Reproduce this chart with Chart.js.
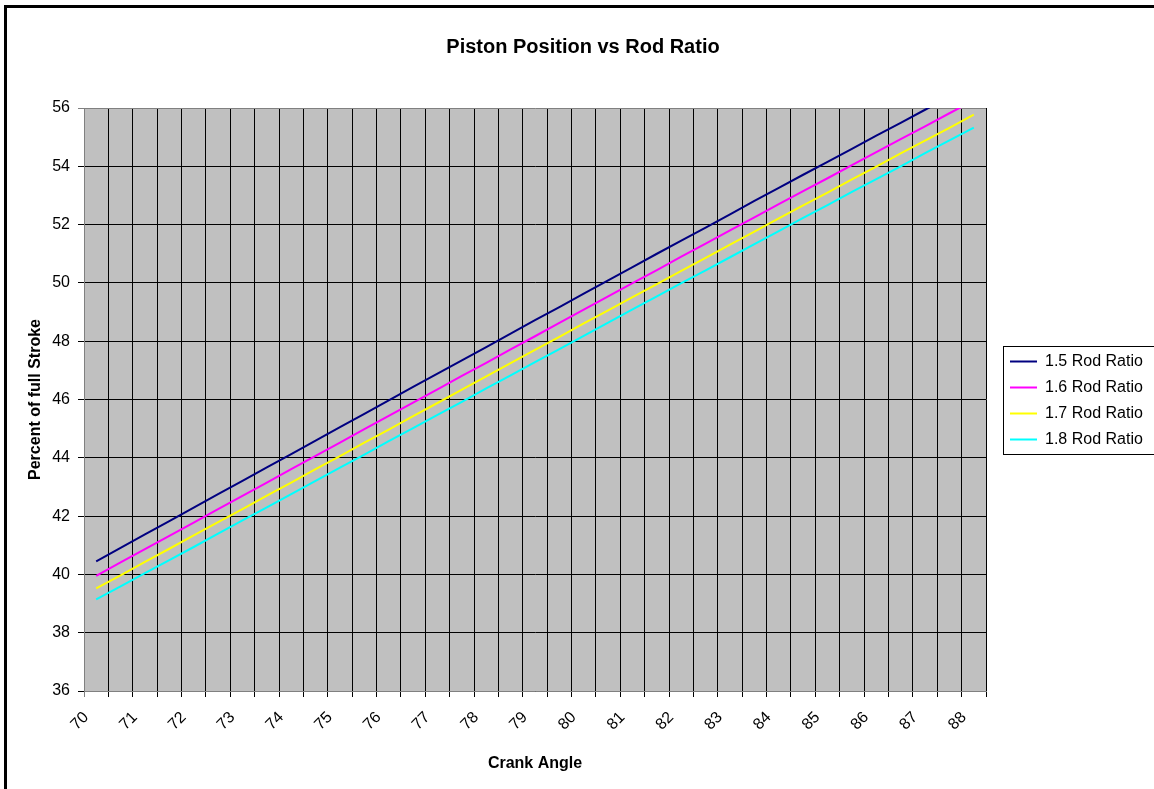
<!DOCTYPE html>
<html>
<head>
<meta charset="utf-8">
<title>Piston Position vs Rod Ratio</title>
<script src="https://cdn.jsdelivr.net/npm/chart.js@4.4.1/dist/chart.umd.min.js"></script>
<style>
  html, body { margin: 0; padding: 0; background: #ffffff; overflow: hidden; }
  canvas { display: block; }
</style>
</head>
<body>
<canvas id="chart" width="1154" height="789"></canvas>
<script>
// Crank angle in degrees (half-degree steps)
const crankAngles = [70, 70.5, 71, 71.5, 72, 72.5, 73, 73.5, 74, 74.5, 75, 75.5, 76, 76.5,
  77, 77.5, 78, 78.5, 79, 79.5, 80, 80.5, 81, 81.5, 82, 82.5, 83, 83.5, 84, 84.5,
  85, 85.5, 86, 86.5, 87, 87.5, 88];

// Piston travel as a percent of full stroke, one list per rod ratio
const rod15 = [40.45, 40.91, 41.37, 41.83, 42.29, 42.75, 43.21, 43.67, 44.13, 44.59, 45.05, 45.51,
  45.97, 46.43, 46.89, 47.34, 47.80, 48.26, 48.72, 49.17, 49.63, 50.09, 50.54, 51.00, 51.45,
  51.90, 52.35, 52.81, 53.26, 53.71, 54.15, 54.60, 55.05, 55.49, 55.94, 56.38, 56.82];
const rod16 = [39.95, 40.41, 40.87, 41.32, 41.78, 42.24, 42.69, 43.15, 43.61, 44.07, 44.52, 44.98,
  45.44, 45.89, 46.35, 46.81, 47.26, 47.72, 48.17, 48.63, 49.08, 49.54, 49.99, 50.44, 50.90,
  51.35, 51.80, 52.25, 52.70, 53.15, 53.59, 54.04, 54.49, 54.93, 55.37, 55.82, 56.26];
const rod17 = [39.52, 39.97, 40.43, 40.88, 41.34, 41.79, 42.24, 42.70, 43.15, 43.61, 44.06, 44.52,
  44.97, 45.43, 45.88, 46.34, 46.79, 47.25, 47.70, 48.15, 48.61, 49.06, 49.51, 49.96, 50.41,
  50.86, 51.31, 51.76, 52.21, 52.66, 53.10, 53.55, 53.99, 54.44, 54.88, 55.32, 55.77];
const rod18 = [39.14, 39.59, 40.04, 40.49, 40.94, 41.40, 41.85, 42.30, 42.75, 43.21, 43.66, 44.11,
  44.57, 45.02, 45.47, 45.92, 46.38, 46.83, 47.28, 47.73, 48.18, 48.64, 49.09, 49.54, 49.99,
  50.43, 50.88, 51.33, 51.78, 52.23, 52.67, 53.12, 53.56, 54.00, 54.45, 54.89, 55.33];

const seriesNames = ['1.5 Rod Ratio', '1.6 Rod Ratio', '1.7 Rod Ratio', '1.8 Rod Ratio'];
const seriesColors = ['#000080', '#ff00ff', '#ffff00', '#00ffff'];
const seriesValues = [rod15, rod16, rod17, rod18];

// Percent axis
const yMin = 36;
const yMax = 56;
const yStep = 2;

const FONT = 'Arial, "Liberation Sans", Helvetica, sans-serif';
Chart.defaults.font.family = FONT;
Chart.defaults.color = '#000000';

// Grey plot area, page frame, legend box and final placement of title/legend
const sheetStyle = {
  id: 'sheetStyle',
  afterLayout(chart) {
    if (chart.titleBlock) {
      chart.titleBlock.left += 15;
      chart.titleBlock.right += 15;
    }
    if (chart.legend) {
      chart.legend.left += 14;
      chart.legend.right += 14;
      chart.legend.top += 6;
      chart.legend.bottom += 6;
    }
  },
  beforeDraw(chart) {
    const { ctx, chartArea: a } = chart;
    ctx.save();
    ctx.fillStyle = '#ffffff';
    ctx.fillRect(0, 0, chart.width, chart.height);
    ctx.fillStyle = '#c0c0c0';
    ctx.fillRect(a.left, a.top, a.right - a.left, a.bottom - a.top);
    ctx.fillStyle = '#000000';
    ctx.fillRect(4, 5, chart.width, 3);
    ctx.fillRect(4, 5, 3, chart.height);
    ctx.restore();
  },
  afterDraw(chart) {
    const hb = chart.legend && chart.legend.legendHitBoxes;
    if (!hb || !hb.length) return;
    const first = hb[0];
    const last = hb[hb.length - 1];
    const x = Math.round(first.left - 7) + 0.5;
    const y = Math.round(first.top - 7.5) + 0.5;
    const bottom = Math.round(last.top + last.height + 6.5) + 0.5;
    const { ctx } = chart;
    ctx.save();
    ctx.strokeStyle = '#000000';
    ctx.lineWidth = 1;
    ctx.strokeRect(x, y, chart.width + 20 - x, bottom - y);
    ctx.restore();
  }
};

new Chart(document.getElementById('chart'), {
  type: 'line',
  data: {
    labels: crankAngles,
    datasets: seriesValues.map((vals, i) => ({
      label: seriesNames[i],
      data: vals,
      borderColor: seriesColors[i],
      backgroundColor: seriesColors[i],
      borderWidth: 2,
      pointRadius: 0,
      pointHoverRadius: 0,
      tension: 0,
      fill: false
    }))
  },
  options: {
    responsive: false,
    animation: false,
    devicePixelRatio: 1,
    layout: { padding: { left: 0, top: 0, right: 18, bottom: 0 } },
    plugins: {
      title: {
        display: true,
        text: 'Piston Position vs Rod Ratio',
        font: { size: 20, weight: 'bold', family: FONT, lineHeight: 1.2 },
        color: '#000000',
        padding: { top: 35, bottom: 49 }
      },
      legend: {
        display: true,
        position: 'right',
        maxWidth: 150,
        labels: {
          usePointStyle: true,
          pointStyle: 'line',
          pointStyleWidth: 27,
          boxWidth: 27,
          padding: 10,
          color: '#000000',
          font: { size: 16, family: FONT }
        }
      },
      tooltip: { enabled: false }
    },
    scales: {
      x: {
        type: 'category',
        offset: true,
        afterFit(scale) { scale.height = 98; },
        grid: {
          offset: true,
          lineWidth: 1,
          color: (c) => (c.index === 0 || c.index === crankAngles.length) ? '#808080' : '#000000',
          tickLength: 6,
          drawTicks: true
        },
        border: { display: true, color: '#808080', width: 1 },
        ticks: {
          autoSkip: false,
          minRotation: 45,
          maxRotation: 45,
          padding: 11,
          labelOffset: -10,
          color: '#000000',
          font: { size: 16, family: FONT },
          callback: (value, index) => Number.isInteger(crankAngles[index]) ? String(crankAngles[index]) : ''
        },
        title: {
          display: true,
          text: 'Crank Angle',
          color: '#000000',
          font: { size: 16, weight: 'bold', family: FONT, lineHeight: 1.2 },
          padding: { top: 0, bottom: 16 }
        }
      },
      y: {
        min: yMin,
        max: yMax,
        afterFit(scale) { scale.width = 84; },
        grid: {
          lineWidth: 1,
          color: (c) => (c.tick && c.tick.value === yMax) ? '#808080' : '#000000',
          tickLength: 6,
          drawTicks: true
        },
        border: { display: true, color: '#808080', width: 1 },
        ticks: {
          stepSize: yStep,
          padding: 8,
          color: '#000000',
          font: { size: 16, family: FONT }
        },
        title: {
          display: true,
          text: 'Percent of full Stroke',
          color: '#000000',
          font: { size: 16, weight: 'bold', family: FONT, lineHeight: 1.2 },
          padding: { top: 26, bottom: 0 }
        }
      }
    }
  },
  plugins: [sheetStyle]
});
</script>
</body>
</html>
